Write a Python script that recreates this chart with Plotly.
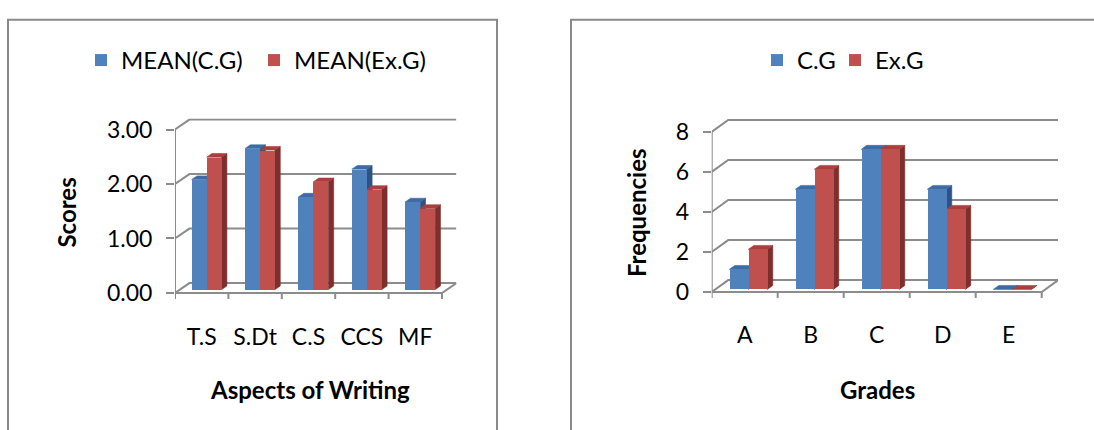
import plotly.graph_objects as go

# ---- data -------------------------------------------------------------
aspects = ["T.S", "S.Dt", "C.S", "CCS", "MF"]
mean_cg = [2.02, 2.59, 1.70, 2.21, 1.61]
mean_exg = [2.43, 2.56, 1.98, 1.84, 1.49]
score_ticks = [0, 1, 2, 3]

grades = ["A", "B", "C", "D", "E"]
freq_cg = [1, 5, 7, 5, 0]
freq_exg = [2, 6, 7, 4, 0]
freq_ticks = [0, 2, 4, 6, 8]

# ---- styling ----------------------------------------------------------
W, H = 1094, 430
FONT = "Lato"
GRID = "#8C8C8C"
BLUE, BLUE_TOP, BLUE_SIDE = "#4F81BD", "#3E6BA5", "#2D5283"
RED, RED_TOP, RED_SIDE = "#C0504D", "#A9403D", "#7D2F2D"

fig = go.Figure()


def px_domain(a, b, size):
    return [a / size, b / size]


def panel(cats, s1, s2, ticks, names, ax, ay, ox, oy, depth_x, depth_y,
          bar_w, plane, bar_d, tick_drop, legend, entry_w):
    n = len(cats)
    xa = "x" if ax == 1 else f"x{ax}"
    ya = "y" if ay == 1 else f"y{ay}"
    xo = f"x{ox}"
    yo = f"y{oy}"
    top = ticks[-1]

    # back wall gridlines, side-wall diagonals and the floor outline
    gx, gy = [], []
    for v in ticks:
        gx += [-0.5, -0.5 + depth_x, n - 0.5 + depth_x, None]
        gy += [v, v + depth_y, v + depth_y, None]
    gx += [-0.5, n - 0.5, n - 0.5 + depth_x, None, -0.5, -0.5]
    gy += [0, 0, depth_y, None, 0, top]
    # category separators below the floor edge
    for i in range(n + 1):
        gx += [None, i - 0.5, i - 0.5]
        gy += [None, 0, -tick_drop]
    fig.add_trace(go.Scatter(x=gx, y=gy, mode="lines", xaxis=xa, yaxis=ya,
                             line=dict(color=GRID, width=2),
                             showlegend=False, hoverinfo="skip"))

    base = plane * depth_y
    ddx, ddy = bar_d * depth_x, bar_d * depth_y
    series = [(s1, -1, BLUE, BLUE_TOP, BLUE_SIDE, names[0], entry_w[0]),
              (s2, 1, RED, RED_TOP, RED_SIDE, names[1], entry_w[1])]
    for vals, sgn, c_front, c_top, c_side, name, lw in series:
        sx, sy, tx, ty = [], [], [], []
        for i, v in enumerate(vals):
            cx = i + plane * depth_x + sgn * bar_w / 2
            x0, x1 = cx - bar_w / 2, cx + bar_w / 2
            t = base + v
            sx += [x1, x1 + ddx, x1 + ddx, x1, x1, None]
            sy += [base, base + ddy, t + ddy, t, base, None]
            tx += [x0, x1, x1 + ddx, x0 + ddx, x0, None]
            ty += [t, t, t + ddy, t + ddy, t, None]
        for fx, fy, col in ((sx, sy, c_side), (tx, ty, c_top)):
            fig.add_trace(go.Scatter(x=fx, y=fy, mode="lines", fill="toself",
                                     fillcolor=col, xaxis=xa, yaxis=ya,
                                     line=dict(color=col, width=0.6),
                                     showlegend=False, hoverinfo="skip"))
        # front faces as real bars on the overlay axes
        xs = [i + plane * depth_x + sgn * bar_w / 2 for i in range(n)]
        fig.add_trace(go.Bar(x=xs, y=vals, base=base, width=bar_w, name=name,
                             marker=dict(color=c_front, line=dict(width=0)),
                             xaxis=xo, yaxis=yo, legend=legend,
                             legendwidth=lw))


# left panel: scores
L_x0, L_cat = 175, 53.4
L_dx = 14.4 / L_cat
L_y0, L_unit = 291.7, 55.0
L_dy = 10.0 / L_unit
L_xr = [-0.5, 4.5 + L_dx]
L_yr = [-0.35, 3.2]
L_xdom = px_domain(L_x0, L_x0 + (L_xr[1] - L_xr[0]) * L_cat, W)
L_ydom = [1 - (L_y0 - L_yr[0] * L_unit) / H, 1 - (L_y0 - L_yr[1] * L_unit) / H]

# right panel: frequencies
R_x0, R_cat = 711.7, 66.0
R_dx = 16.5 / R_cat
R_y0, R_unit = 290.7, 20.2
R_dy = 12.0 / R_unit
R_xr = [-0.5, 4.5 + R_dx]
R_yr = [-0.9, 8.7]
R_xdom = px_domain(R_x0, R_x0 + (R_xr[1] - R_xr[0]) * R_cat, W)
R_ydom = [1 - (R_y0 - R_yr[0] * R_unit) / H, 1 - (R_y0 - R_yr[1] * R_unit) / H]

panel(aspects, mean_cg, mean_exg, score_ticks, ["MEAN(C.G)", "MEAN(Ex.G)"],
      1, 1, 3, 3, L_dx, L_dy, 0.28, 0.34, 0.37, 6 / L_unit, "legend",
      (128, 150))
panel(grades, freq_cg, freq_exg, freq_ticks, ["C.G", "Ex.G"],
      2, 2, 4, 4, R_dx, R_dy, 0.288, 0.22, 0.33, 6 / R_unit, "legend2",
      (33, 70))

tickfont = dict(family=FONT, size=23, color="#000000")


def xaxis(rng, dom, cats, anchor):
    return dict(range=rng, domain=dom, anchor=anchor, showgrid=False,
                zeroline=False, showline=False, ticks="",
                tickvals=list(range(len(cats))), ticktext=cats,
                tickfont=tickfont, ticklabelstandoff=9, fixedrange=True)


def yaxis(rng, dom, tick_vals, fmt, anchor):
    return dict(range=rng, domain=dom, anchor=anchor, showgrid=False,
                zeroline=False, showline=False, ticks="outside", ticklen=8,
                tickwidth=2, tickcolor=GRID, tickvals=tick_vals,
                tickformat=fmt, tickfont=tickfont, ticklabelstandoff=9,
                fixedrange=True)


hidden = dict(visible=False, fixedrange=True)
legend_font = dict(family=FONT, size=24, color="#000000")

fig.update_layout(
    width=W, height=H, margin=dict(l=0, r=0, t=0, b=0),
    paper_bgcolor="white", plot_bgcolor="rgba(0,0,0,0)",
    barmode="overlay", bargap=0,
    xaxis=xaxis(L_xr, L_xdom, aspects, "y"),
    yaxis=yaxis(L_yr, L_ydom, score_ticks, ".2f", "x"),
    xaxis2=xaxis(R_xr, R_xdom, grades, "y2"),
    yaxis2=yaxis(R_yr, R_ydom, freq_ticks, "d", "x2"),
    xaxis3=dict(hidden, range=L_xr, overlaying="x", anchor="y3"),
    yaxis3=dict(hidden, range=L_yr, overlaying="y", anchor="x3"),
    xaxis4=dict(hidden, range=R_xr, overlaying="x2", anchor="y4"),
    yaxis4=dict(hidden, range=R_yr, overlaying="y2", anchor="x4"),
    legend=dict(orientation="h", x=81 / W, y=1 - 57 / H, xanchor="left",
                yanchor="middle", font=legend_font),
    legend2=dict(orientation="h", x=757 / W, y=1 - 57 / H, xanchor="left",
                 yanchor="middle", font=legend_font),
    showlegend=True,
)

# chart frames
for x0, x1 in ((8, 497), (571, W + 10)):
    fig.add_shape(type="rect", xref="paper", yref="paper",
                  x0=x0 / W, x1=x1 / W, y0=-0.05, y1=1 - 16 / H,
                  line=dict(color="#8A8A8A", width=2), layer="below")

# axis titles
titles = [("Scores", 66.5, 211, -90), ("Aspects of Writing", 309.5, 389, 0),
          ("Frequencies", 636, 211, -90), ("Grades", 877, 389, 0)]
for text, x, y, ang in titles:
    fig.add_annotation(text=f"<b>{text}</b>", xref="paper", yref="paper",
                       x=x / W, y=1 - y / H, showarrow=False, textangle=ang,
                       xanchor="center", yanchor="middle",
                       font=dict(family=FONT, size=24, color="#000000"))

fig.write_html("out.html")
